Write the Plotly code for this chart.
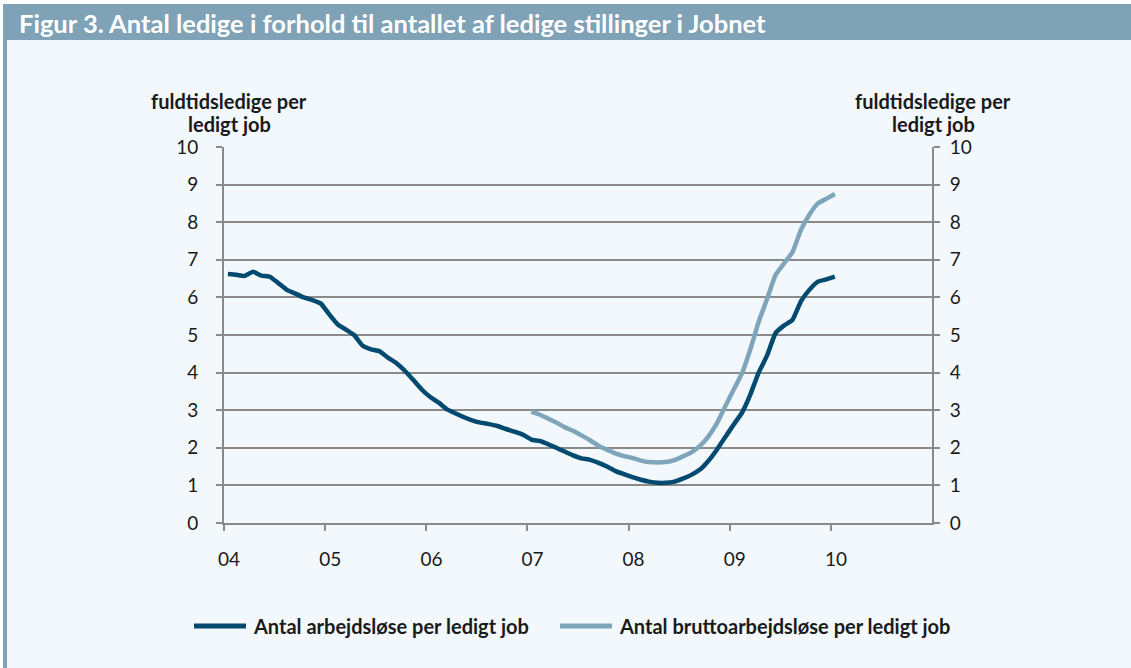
import plotly.graph_objects as go

# ---------------- data ----------------
months = [f"{2004 + i // 12}-{i % 12 + 1:02d}-15" for i in range(73)]

arbejdsloese = [
    6.62, 6.60, 6.57, 6.68, 6.58, 6.55, 6.38, 6.20, 6.10, 6.00, 5.93, 5.84,
    5.55, 5.28, 5.15, 5.00, 4.72, 4.62, 4.57, 4.40, 4.25, 4.05, 3.80, 3.55,
    3.35, 3.20, 3.03, 2.92, 2.82, 2.73, 2.67, 2.63, 2.58, 2.50, 2.43, 2.35,
    2.22, 2.18, 2.10, 2.00, 1.90, 1.80, 1.72, 1.68, 1.60, 1.50, 1.38, 1.30,
    1.22, 1.15, 1.10, 1.07, 1.07, 1.10, 1.18, 1.28, 1.42, 1.65, 1.95, 2.28,
    2.62, 2.95, 3.40, 4.00, 4.45, 5.05, 5.25, 5.40, 5.90, 6.20, 6.42, 6.48,
    6.55,
]

brutto_months = months[36:]
bruttoarbejdsloese = [
    2.96, 2.88, 2.78, 2.67, 2.55, 2.45, 2.33, 2.20, 2.05, 1.95, 1.85, 1.78,
    1.73, 1.66, 1.62, 1.61, 1.62, 1.67, 1.77, 1.88, 2.05, 2.30, 2.65, 3.10,
    3.55, 4.00, 4.60, 5.35, 5.95, 6.60, 6.90, 7.20, 7.80, 8.20, 8.50, 8.62,
    8.75,
]

year_ticks = [f"{y}-01-01" for y in range(2004, 2011)]
year_labels = ["04", "05", "06", "07", "08", "09", "10"]
y_ticks = list(range(0, 11))

series_names = ["Antal arbejdsløse per ledigt job", "Antal bruttoarbejdsløse per ledigt job"]
title_text = "Figur 3. Antal ledige i forhold til antallet af ledige stillinger i Jobnet"
axis_title_lines = ["fuldtidsledige per", "ledigt job"]

# ---------------- style ----------------
W, H = 1131, 668
L, R, T, B = 224, 199, 147, 145
PW, PH = W - L - R, H - T - B

DARK = "#004a70"
LIGHT = "#7fa5bb"
BAR = "#7fa2b7"
BG = "#f3f8fc"
GRID = "#8a8a8a"
TXT = "#1a1a1a"
FONT = "Lato, 'Open Sans', sans-serif"
series_colors = [DARK, LIGHT]


def px_x(p):
    return (p - L) / PW


def px_y(p):
    return (H - B - p) / PH


fig = go.Figure()
fig.add_trace(go.Scatter(x=months, y=arbejdsloese, mode="lines", name=series_names[0],
                         line=dict(color=DARK, width=4.5, shape="spline", smoothing=0.4)))
fig.add_trace(go.Scatter(x=brutto_months, y=bruttoarbejdsloese, mode="lines", name=series_names[1],
                         line=dict(color=LIGHT, width=4.5, shape="spline", smoothing=0.4)))
# invisible trace to activate the right-hand axis
fig.add_trace(go.Scatter(x=[months[0]], y=[0], yaxis="y2", mode="markers",
                         marker=dict(opacity=0), showlegend=False, hoverinfo="skip"))

shapes = [
    dict(type="rect", xref="paper", yref="paper", x0=px_x(7), x1=px_x(W), y0=px_y(H), y1=px_y(40),
         fillcolor=BG, line=dict(width=0), layer="below"),
    dict(type="rect", xref="paper", yref="paper", x0=px_x(3), x1=px_x(W), y0=px_y(40), y1=px_y(4),
         fillcolor=BAR, line=dict(width=0), layer="below"),
    dict(type="rect", xref="paper", yref="paper", x0=px_x(3), x1=px_x(7), y0=px_y(H), y1=px_y(40),
         fillcolor=BAR, line=dict(width=0), layer="below"),
]

annotations = [
    dict(text=f"<b>{title_text}</b>", xref="paper", yref="paper", x=px_x(17), y=px_y(23),
         xanchor="left", yanchor="middle", showarrow=False,
         font=dict(family=FONT, size=25.5, color="white")),
]
for cx in (229, 933):
    for line_text, cy in zip(axis_title_lines, (101, 124)):
        annotations.append(dict(text=f"<b>{line_text}</b>", xref="paper", yref="paper",
                                x=px_x(cx), y=px_y(cy), xanchor="center", yanchor="middle",
                                showarrow=False, font=dict(family=FONT, size=20, color=TXT)))

# hand-drawn legend (one row, as in the reference)
legend_y = 626
for name, color, (lx0, lx1, tx) in zip(series_names, series_colors, [(194, 246, 251), (560, 612, 617)]):
    shapes.append(dict(type="line", xref="paper", yref="paper",
                       x0=px_x(lx0), x1=px_x(lx1), y0=px_y(legend_y), y1=px_y(legend_y),
                       line=dict(color=color, width=5)))
    annotations.append(dict(text=f"<b>{name}</b>", xref="paper", yref="paper",
                            x=px_x(tx), y=px_y(legend_y), xanchor="left", yanchor="middle",
                            showarrow=False, font=dict(family=FONT, size=20, color=TXT)))

fig.update_layout(
    width=W, height=H,
    margin=dict(l=L, r=R, t=T, b=B, autoexpand=False),
    paper_bgcolor="white",
    plot_bgcolor=BG,
    font=dict(family=FONT, size=19, color=TXT),
    shapes=shapes,
    annotations=annotations,
    showlegend=False,
    xaxis=dict(type="date", range=["2004-01-01", "2011-01-01"], tickvals=year_ticks,
               ticktext=year_labels, showgrid=False, zeroline=False,
               showline=True, linecolor=GRID, linewidth=2,
               ticks="outside", ticklen=6, tickwidth=1.5, tickcolor=GRID,
               ticklabelstandoff=12, ticklabelshift=5,
               tickfont=dict(family=FONT, size=19, color=TXT)),
    yaxis=dict(range=[0, 10], tickvals=y_ticks, showgrid=True, gridcolor=GRID, gridwidth=1.5,
               zeroline=False, showline=True, linecolor=GRID, linewidth=2,
               ticks="outside", ticklen=6, tickwidth=1.5, tickcolor=GRID,
               ticklabelstandoff=14,
               tickfont=dict(family=FONT, size=19, color=TXT)),
    yaxis2=dict(range=[0, 10], tickvals=y_ticks, overlaying="y", side="right",
                showgrid=False, zeroline=False, showline=True, linecolor=GRID, linewidth=2,
                ticks="outside", ticklen=6, tickwidth=1.5, tickcolor=GRID,
                ticklabelstandoff=6,
                tickfont=dict(family=FONT, size=19, color=TXT)),
)

fig.write_html(
    "out.html",
    config={"displayModeBar": False},
    post_script="document.body.style.margin='0';document.documentElement.style.overflow='hidden';",
)
